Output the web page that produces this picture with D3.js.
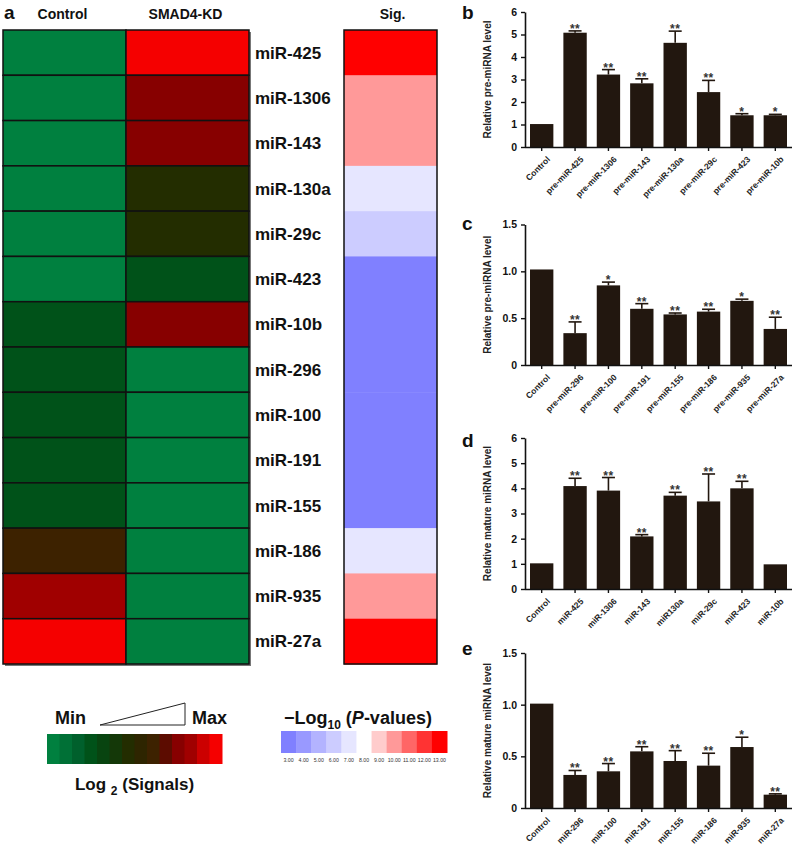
<!DOCTYPE html>
<html><head><meta charset="utf-8">
<script src="https://cdn.jsdelivr.net/npm/d3@7"></script>
<style>body{margin:0;background:#fff;} svg{display:block;font-family:"Liberation Sans",Arial,sans-serif;}</style>
</head><body><svg id="chart" width="795" height="851"></svg>
<script>
// ---------- Panel a: heatmap data ----------
const mirnas = ["miR-425","miR-1306","miR-143","miR-130a","miR-29c","miR-423","miR-10b","miR-296","miR-100","miR-191","miR-155","miR-186","miR-935","miR-27a"];
const heatColumns = ["Control","SMAD4-KD"];
const controlLevels = [0,0,0,0,0,0,3,3,3,3,3,8,11,13];   // log2 signal level (0 = min, 13 = max)
const smadLevels    = [13,10,10,6,6,3,10,0,0,0,0,0,0,0];
const sigValues     = [13,10,10,7,6,3,3,3,3,3,3,7,10,13]; // -log10(P)
const signalPalette = ["#00803f","#007036","#00602c","#005219","#084410","#143808","#232d00","#2e2500","#3d2200","#5c0c00","#870000","#a00000","#cc0000","#f50000"];
const sigLegendTicks = [3,4,5,6,7,8,9,10,11,12,13];

// ---------- Panels b-e: bar data ----------
const panelBCats = ["Control","pre-miR-425","pre-miR-1306","pre-miR-143","pre-miR-130a","pre-miR-29c","pre-miR-423","pre-miR-10b"];
const panelBValues = [1.02,5.08,3.22,2.83,4.63,2.44,1.41,1.41];
const panelBErrors = [0.0,0.08,0.22,0.20,0.52,0.52,0.07,0.04];
const panelBStars  = ["","**","**","**","**","**","*","*"];

const panelCCats = ["Control","pre-miR-296","pre-miR-100","pre-miR-191","pre-miR-155","pre-miR-186","pre-miR-935","pre-miR-27a"];
const panelCValues = [1.02,0.34,0.85,0.60,0.54,0.57,0.685,0.385];
const panelCErrors = [0.0,0.12,0.035,0.055,0.015,0.025,0.018,0.125];
const panelCStars  = ["","**","*","**","**","**","*","**"];

const panelDCats = ["Control","miR-425","miR-1306","miR-143","miR130a","miR-29c","miR-423","miR-10b"];
const panelDValues = [1.02,4.09,3.91,2.09,3.71,3.48,4.00,0.98];
const panelDErrors = [0.0,0.31,0.52,0.07,0.13,1.09,0.28,0.0];
const panelDStars  = ["","**","**","**","**","**","**",""];

const panelECats = ["Control","miR-296","miR-100","miR-191","miR-155","miR-186","miR-935","miR-27a"];
const panelEValues = [1.01,0.32,0.355,0.548,0.455,0.41,0.59,0.129];
const panelEErrors = [0.0,0.043,0.075,0.045,0.10,0.12,0.095,0.008];
const panelEStars  = ["","**","**","**","**","**","*","**"];

const tickLinear6 = [0,1,2,3,4,5,6];
const tickFrac = [0,0.5,1.0,1.5];
const tickFracLabels = ["0","0.5","1.0","1.5"];

const svg = d3.select("#chart");
const FONT = '"Liberation Sans",Arial,sans-serif';

// ---------- Heatmap ----------
const hm = {x0:3, x1:249, y0:30, y1:664};
const colX = d3.scaleBand().domain(heatColumns).range([hm.x0, hm.x1]);
const rowY = d3.scaleBand().domain(mirnas).range([hm.y0, hm.y1]);
const colorSignal = d3.scaleQuantize().domain([0, signalPalette.length]).range(signalPalette);
const colorSig = d3.scaleLinear().domain([3,8,13]).range(["#8080ff","#ffffff","#ff0000"]);

const cells = [];
mirnas.forEach((m,i)=>{
  cells.push({row:m, col:"Control", v:controlLevels[i]});
  cells.push({row:m, col:"SMAD4-KD", v:smadLevels[i]});
});
svg.append("rect").attr("x",hm.x0+2).attr("y",hm.y0+2).attr("width",hm.x1-hm.x0).attr("height",hm.y1-hm.y0).attr("fill","#777");
svg.append("g").selectAll("rect").data(cells).join("rect")
  .attr("x",d=>colX(d.col)).attr("y",d=>rowY(d.row))
  .attr("width",colX.bandwidth()).attr("height",rowY.bandwidth())
  .attr("fill",d=>colorSignal(d.v+0.5)).attr("stroke","#111").attr("stroke-width",1.5);

svg.append("g").selectAll("text").data(heatColumns).join("text")
  .attr("x",d=>colX(d)+colX.bandwidth()/2 - 2).attr("y",19)
  .attr("text-anchor","middle").attr("font-weight","bold").attr("font-size",14).attr("fill","#111")
  .text(d=>d);

svg.append("g").selectAll("text").data(mirnas).join("text")
  .attr("x",255).attr("y",d=>rowY(d)+rowY.bandwidth()/2+6)
  .attr("font-weight","bold").attr("font-size",17).attr("fill","#111").text(d=>d);

// Sig column
const sigX0 = 344, sigX1 = 437;
svg.append("g").selectAll("rect").data(mirnas).join("rect")
  .attr("x",sigX0).attr("y",d=>rowY(d)).attr("width",sigX1-sigX0).attr("height",rowY.bandwidth()+0.5)
  .attr("fill",(d,i)=>colorSig(sigValues[i]));
svg.append("rect").attr("x",sigX0).attr("y",hm.y0).attr("width",sigX1-sigX0).attr("height",hm.y1-hm.y0)
  .attr("fill","none").attr("stroke","#111").attr("stroke-width",1.5);
svg.append("text").attr("x",(sigX0+sigX1)/2+2).attr("y",19).attr("text-anchor","middle")
  .attr("font-weight","bold").attr("font-size",14).attr("fill","#111").text("Sig.");

// panel letters
const letters = [["a",4,19],["b",462,19],["c",462,230],["d",462,447],["e",462,655]];
svg.append("g").selectAll("text").data(letters).join("text")
  .attr("x",d=>d[1]).attr("y",d=>d[2]).attr("font-weight","bold").attr("font-size",19).attr("fill","#111").text(d=>d[0]);

// ---------- Legend 1: Log2 signals ----------
const lg1 = {x0:47, x1:222, y:734, h:30};
svg.append("text").attr("x",55).attr("y",724).attr("font-weight","bold").attr("font-size",18).attr("fill","#111").text("Min");
svg.append("path").attr("d",`M100,725 L185,703 L185,725 Z`).attr("fill","#fff").attr("stroke","#222").attr("stroke-width",1);
svg.append("text").attr("x",192).attr("y",724).attr("font-weight","bold").attr("font-size",18).attr("fill","#111").text("Max");
const lg1X = d3.scaleBand().domain(d3.range(signalPalette.length)).range([lg1.x0, lg1.x1]);
svg.append("g").selectAll("rect").data(d3.range(signalPalette.length)).join("rect")
  .attr("x",d=>lg1X(d)).attr("y",lg1.y).attr("width",lg1X.bandwidth()+0.5).attr("height",lg1.h)
  .attr("fill",d=>colorSignal(d+0.5));
const t1 = svg.append("text").attr("x",(lg1.x0+lg1.x1)/2).attr("y",790).attr("text-anchor","middle")
  .attr("font-weight","bold").attr("font-size",17).attr("fill","#111");
t1.append("tspan").text("Log ");
t1.append("tspan").attr("font-size",12).attr("dy",5).text("2");
t1.append("tspan").attr("dy",-5).text(" (Signals)");

// ---------- Legend 2: -log10 P ----------
const lg2 = {x0:281, x1:447, y:731, h:22};
const t2 = svg.append("text").attr("x",284).attr("y",724).attr("font-weight","bold").attr("font-size",18).attr("fill","#111");
t2.append("tspan").text("\u2212Log");
t2.append("tspan").attr("font-size",12).attr("dy",5).text("10");
t2.append("tspan").attr("dy",-5).text(" (");
t2.append("tspan").attr("font-style","italic").text("P");
t2.append("tspan").text("-values)");
const lg2X = d3.scaleBand().domain(sigLegendTicks).range([lg2.x0, lg2.x1]);
svg.append("g").selectAll("rect").data(sigLegendTicks).join("rect")
  .attr("x",d=>lg2X(d)).attr("y",lg2.y).attr("width",lg2X.bandwidth()+0.5).attr("height",lg2.h)
  .attr("fill",d=>colorSig(d));
svg.append("g").selectAll("text").data(sigLegendTicks).join("text")
  .attr("x",d=>lg2X(d)+lg2X.bandwidth()/2).attr("y",lg2.y+lg2.h+9).attr("text-anchor","middle")
  .attr("font-size",5.2).attr("fill","#333").text(d=>d3.format(".2f")(d));

// ---------- Bar panels ----------
function barPanel(cfg){
  const g = svg.append("g");
  const x = d3.scaleBand().domain(cfg.cats).range([525, 792]).paddingInner(0.3).paddingOuter(0.15);
  const y = d3.scaleLinear().domain([0, cfg.max]).range([cfg.yZero, cfg.yTop]);
  const bars = cfg.cats.map((c,i)=>({c, v:cfg.values[i], e:cfg.errors[i], s:cfg.stars[i]}));
  const barColor = "#22170f";
  g.selectAll("rect.bar").data(bars).join("rect").attr("class","bar")
    .attr("x",d=>x(d.c)).attr("y",d=>y(d.v)).attr("width",x.bandwidth()).attr("height",d=>y(0)-y(d.v))
    .attr("fill",barColor);
  const eb = bars.filter(d=>d.e>0);
  g.selectAll("line.err").data(eb).join("line").attr("class","err")
    .attr("x1",d=>x(d.c)+x.bandwidth()/2).attr("x2",d=>x(d.c)+x.bandwidth()/2)
    .attr("y1",d=>y(d.v)).attr("y2",d=>y(d.v+d.e)).attr("stroke",barColor).attr("stroke-width",1.6);
  g.selectAll("line.cap").data(eb).join("line").attr("class","cap")
    .attr("x1",d=>x(d.c)+x.bandwidth()/2-6.5).attr("x2",d=>x(d.c)+x.bandwidth()/2+6.5)
    .attr("y1",d=>y(d.v+d.e)).attr("y2",d=>y(d.v+d.e)).attr("stroke",barColor).attr("stroke-width",1.6);
  g.selectAll("text.star").data(bars.filter(d=>d.s)).join("text").attr("class","star")
    .attr("x",d=>x(d.c)+x.bandwidth()/2).attr("y",d=>y(d.v+d.e)+2)
    .attr("text-anchor","middle").attr("font-size",12).attr("font-weight","bold").attr("letter-spacing",0.5)
    .attr("fill","#333").text(d=>d.s);
  const ya = d3.axisLeft(y).tickValues(cfg.ticks).tickFormat((d,i)=>cfg.tickLabels ? cfg.tickLabels[i] : d).tickSize(4).tickSizeOuter(0);
  const yg = g.append("g").attr("transform","translate(525,0)").call(ya);
  yg.select(".domain").attr("stroke","#111").attr("stroke-width",1.6);
  yg.selectAll(".tick line").attr("stroke","#111").attr("stroke-width",1.4);
  yg.selectAll(".tick text").attr("font-family",FONT).attr("font-weight","bold").attr("font-size",10.5).attr("fill","#111").attr("dx",-1);
  const xa = d3.axisBottom(x).tickSize(4).tickSizeOuter(0);
  const xg = g.append("g").attr("transform",`translate(0,${cfg.yZero})`).call(xa);
  xg.select(".domain").attr("stroke","#111").attr("stroke-width",1.6).attr("d",`M525,0.5H792`);
  xg.selectAll(".tick line").attr("stroke","#111").attr("stroke-width",1.4);
  xg.selectAll(".tick text").attr("font-family",FONT).attr("font-weight","bold").attr("font-size",8.5).attr("fill","#222")
    .attr("text-anchor","end").attr("dy",0).attr("transform","translate(4,8) rotate(-45)");
  g.append("text").attr("transform",`translate(491,${(cfg.yZero+cfg.yTop)/2}) rotate(-90)`)
    .attr("text-anchor","middle").attr("font-weight","bold").attr("font-size",10).attr("fill","#222").text(cfg.ylabel);
}

barPanel({cats:panelBCats, values:panelBValues, errors:panelBErrors, stars:panelBStars, max:6, yTop:12, yZero:147, ticks:tickLinear6, ylabel:"Relative pre-miRNA level"});
barPanel({cats:panelCCats, values:panelCValues, errors:panelCErrors, stars:panelCStars, max:1.5, yTop:224.5, yZero:365, ticks:tickFrac, tickLabels:tickFracLabels, ylabel:"Relative pre-miRNA level"});
barPanel({cats:panelDCats, values:panelDValues, errors:panelDErrors, stars:panelDStars, max:6, yTop:438, yZero:589, ticks:tickLinear6, ylabel:"Relative mature miRNA level"});
barPanel({cats:panelECats, values:panelEValues, errors:panelEErrors, stars:panelEStars, max:1.5, yTop:653, yZero:808, ticks:tickFrac, tickLabels:tickFracLabels, ylabel:"Relative mature miRNA level"});
</script></body></html>
